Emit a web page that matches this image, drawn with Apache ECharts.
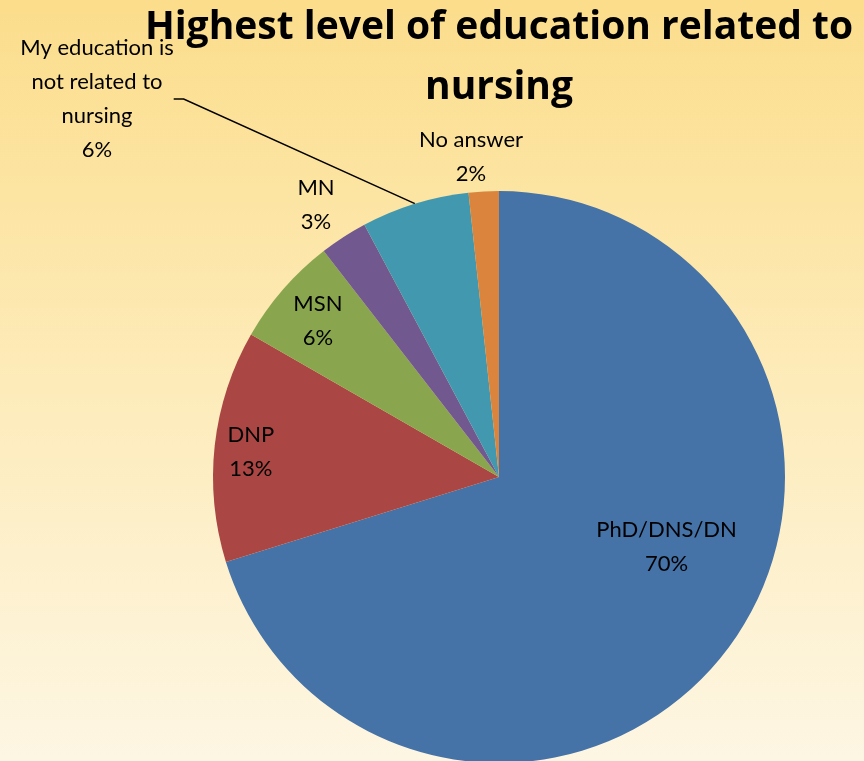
<!DOCTYPE html>
<html>
<head>
<meta charset="utf-8">
<script src="https://cdn.jsdelivr.net/npm/echarts@6/dist/echarts.min.js"></script>
<style>html,body{margin:0;padding:0;}#c{width:864px;height:761px;}</style>
</head>
<body>
<div id="c"></div>
<script>
const titleText = 'Highest level of education related to\nnursing';
const categories = ['PhD/DNS/DN', 'DNP', 'MSN', 'MN', 'My education is\nnot related to\nnursing', 'No answer'];
const values = [70.2, 13.1, 6.2, 2.7, 6.1, 1.7];
const colors = ['#4572A7', '#AA4643', '#89A54E', '#71588F', '#4198AF', '#DB843D'];
// label placement: 'inside' items shifted by offsets; outside items placed in free space
const labelPos = ['inside', 'inside', 'inside', 'outside', 'outside', 'outside'];
const labelOffsets = [[50, -17], [-103, -9], [-71, -60], null, null, null];
const outsideLabelAt = [null, null, null, [316, 205], [97, 99], [471, 157]];

const FONT = 'Lato';
const chart = echarts.init(document.getElementById('c'));
const data = categories.map((name, i) => ({
  name: name,
  value: values[i],
  itemStyle: { color: colors[i] },
  label: { position: labelPos[i] },
  labelLine: { show: i === 4, lineStyle: { color: '#000', width: 1.5 } }
}));

chart.setOption({
  backgroundColor: new echarts.graphic.LinearGradient(0, 0, 0, 1, [
    { offset: 0, color: '#FBDD8B' },
    { offset: 0.5, color: '#FDEBB9' },
    { offset: 1, color: '#FDF6E3' }
  ]),
  title: {
    text: titleText,
    left: 499,
    top: -2,
    padding: 0,
    textAlign: 'center',
    textStyle: { fontFamily: 'Open Sans', fontWeight: 'bold', fontSize: 39, color: '#000', lineHeight: 60 }
  },
  series: [{
    type: 'pie',
    center: [499, 477],
    radius: 286,
    startAngle: 90,
    clockwise: true,
    percentPrecision: 0,
    animation: false,
    silent: true,
    data: data,
    label: {
      show: true,
      formatter: '{b}\n{d}%',
      fontFamily: FONT,
      fontSize: 22,
      lineHeight: 34,
      color: '#000',
      align: 'center'
    },
    labelLine: { length: 20, length2: 10, smooth: false },
    labelLayout: function (p) {
      const i = p.dataIndex;
      if (labelOffsets[i]) {
        return { dx: labelOffsets[i][0], dy: labelOffsets[i][1] };
      }
      const at = outsideLabelAt[i];
      return { x: at[0], y: at[1], align: 'center', verticalAlign: 'middle' };
    }
  }]
});
</script>
</body>
</html>
